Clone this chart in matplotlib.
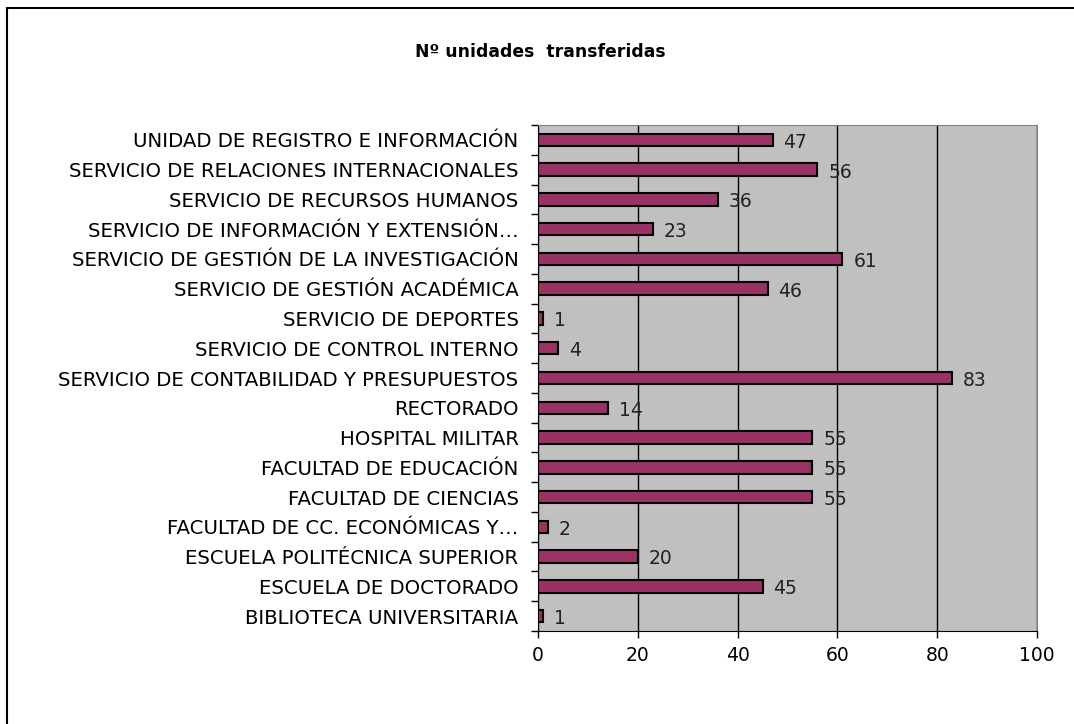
import matplotlib.pyplot as plt
import numpy as np
from matplotlib.patches import Rectangle

categorias = [
    "UNIDAD DE REGISTRO E INFORMACIÓN",
    "SERVICIO DE RELACIONES INTERNACIONALES",
    "SERVICIO DE RECURSOS HUMANOS",
    "SERVICIO DE INFORMACIÓN Y EXTENSIÓN…",
    "SERVICIO DE GESTIÓN DE LA INVESTIGACIÓN",
    "SERVICIO DE GESTIÓN ACADÉMICA",
    "SERVICIO DE DEPORTES",
    "SERVICIO DE CONTROL INTERNO",
    "SERVICIO DE CONTABILIDAD Y PRESUPUESTOS",
    "RECTORADO",
    "HOSPITAL MILITAR",
    "FACULTAD DE EDUCACIÓN",
    "FACULTAD DE CIENCIAS",
    "FACULTAD DE CC. ECONÓMICAS Y…",
    "ESCUELA POLITÉCNICA SUPERIOR",
    "ESCUELA DE DOCTORADO",
    "BIBLIOTECA UNIVERSITARIA",
]
unidades = [47, 56, 36, 23, 61, 46, 1, 4, 83, 14, 55, 55, 55, 2, 20, 45, 1]
xticks = [0, 20, 40, 60, 80, 100]

plt.rcParams['font.family'] = ['DejaVu Sans']
fs = 13.5

fig = plt.figure(figsize=(10.74, 7.24), dpi=100)
# marco exterior del grafico
fig.patches.append(Rectangle((7 / 1074, -0.1), 1.2, (724 - 8) / 724 + 0.1,
                             transform=fig.transFigure, fill=False,
                             edgecolor='black', linewidth=1.5))

ax = fig.add_axes([538 / 1074, 93 / 724, 499 / 1074, 506 / 724])
ax.set_facecolor('#c0c0c0')

y = np.arange(len(categorias))
ax.barh(y, unidades, height=0.42, color='#993366', edgecolor='black', linewidth=1.5, zorder=3)
ax.set_xlim(0, 100)
ax.set_ylim(len(categorias) - 0.5, -0.5)
ax.set_xticks(xticks)
ax.set_yticks(np.arange(len(categorias) + 1) - 0.5, minor=True)
ax.set_yticks(y)
ax.set_yticklabels(categorias, fontsize=14.2)
ax.tick_params(axis='y', which='major', length=0, pad=14)
ax.tick_params(axis='y', which='minor', length=5, width=1)
ax.tick_params(axis='x', labelsize=fs, length=5, width=1, pad=6)
ax.grid(axis='x', color='black', linewidth=1, zorder=1)

for s in ['top', 'right']:
    ax.spines[s].set_color('#808080')
for s in ['left', 'bottom']:
    ax.spines[s].set_color('black')

for yi, v in zip(y, unidades):
    ax.text(v + 2.2, yi + 0.08, str(v), va='center', ha='left', fontsize=fs, zorder=4,
            color='#222222')

fig.text(540 / 1074, 1 - 52 / 724, "Nº unidades  transferidas", ha='center', va='center',
         fontsize=12.4, fontweight='bold')

fig.savefig("out.png", dpi=100)
